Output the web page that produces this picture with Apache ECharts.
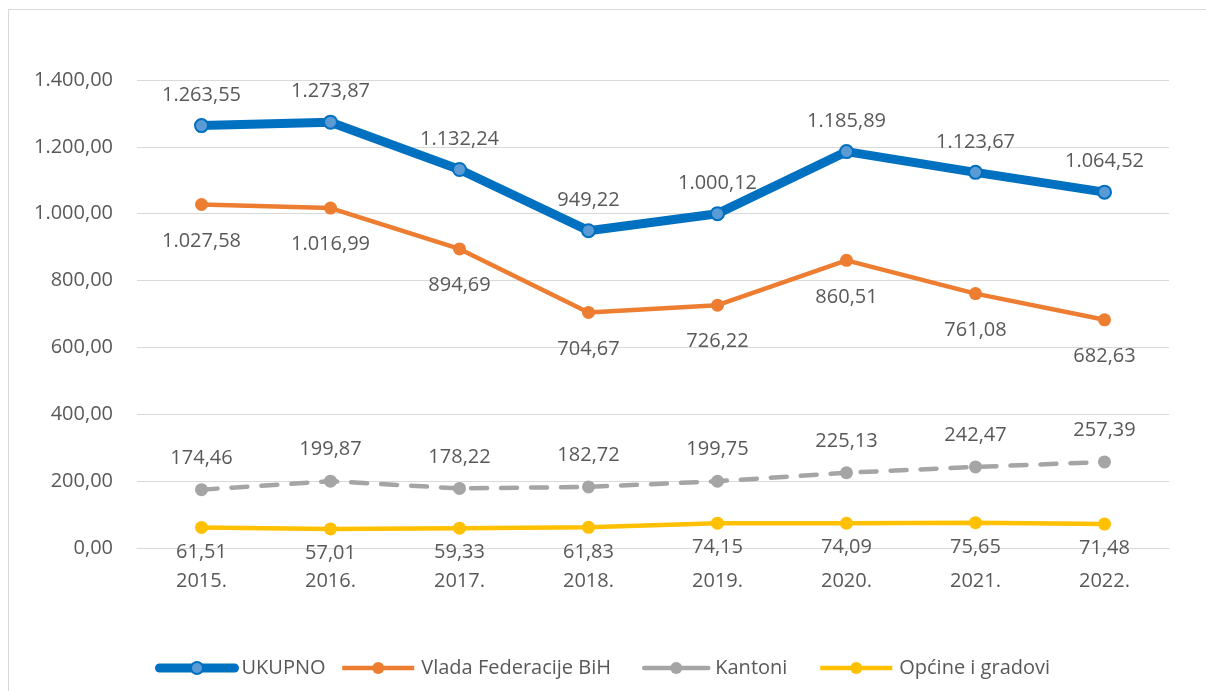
<!DOCTYPE html>
<html>
<head>
<meta charset="utf-8">
<script src="https://cdn.jsdelivr.net/npm/echarts@6/dist/echarts.min.js"></script>
<style>
    html, body { margin: 0; padding: 0; background: #fff; }
    #frame { position: absolute; left: 8px; top: 9px; width: 1210px; height: 700px; border: 1px solid #d9d9d9; box-sizing: border-box; }
    #chart { position: absolute; left: 0; top: 0; width: 1206px; height: 691px; }
</style>
</head>
<body>
<div id="frame"></div>
<div id="chart"></div>
<script>
    // godine
    const years = ['2015.', '2016.', '2017.', '2018.', '2019.', '2020.', '2021.', '2022.'];
    const ukupno = [1263.55, 1273.87, 1132.24, 949.22, 1000.12, 1185.89, 1123.67, 1064.52];
    const vlada = [1027.58, 1016.99, 894.69, 704.67, 726.22, 860.51, 761.08, 682.63];
    const kantoni = [174.46, 199.87, 178.22, 182.72, 199.75, 225.13, 242.47, 257.39];
    const opcine = [61.51, 57.01, 59.33, 61.83, 74.15, 74.09, 75.65, 71.48];
    const yTicks = [0, 200, 400, 600, 800, 1000, 1200, 1400];

    const FONT = '"Open Sans", "Noto Sans", sans-serif';
    const TXT = '#595959';
    const FS = 20;

    // 1.263,55 format
    function fmt(v) {
        let parts = v.toFixed(2).split('.');
        parts[0] = parts[0].replace(/\B(?=(\d{3})+(?!\d))/g, '.');
        return parts[0] + ',' + parts[1];
    }

    function lbl(pos, dist) {
        return {
            show: true,
            position: pos,
            distance: dist,
            color: TXT,
            fontSize: FS,
            fontFamily: FONT,
            formatter: p => fmt(p.value)
        };
    }

    // svaka legenda posebno, kao u Excelu
    function leg(name, left, width, lineWidth) {
        return {
            left: left,
            top: 658,
            padding: 0,
            itemWidth: width,
            itemHeight: 15,
            itemGap: 0,
            textStyle: { color: TXT, fontSize: FS, fontFamily: FONT, padding: [0, 0, 0, 2] },
            lineStyle: { width: lineWidth, type: 'solid' },
            data: [name]
        };
    }

    let chart = echarts.init(document.getElementById('chart'));
    let option = {
        animation: false,
        textStyle: { fontFamily: FONT },
        grid: { left: 137, right: 37, top: 80, bottom: 143, outerBoundsMode: 'none' },
        legend: [
            leg('UKUPNO', 155, 75, 9),
            leg('Vlada Federacije BiH', 340, 72, 4.5),
            leg('Kantoni', 642, 64, 4.5),
            leg('Općine i gradovi', 818, 72, 4.5)
        ],
        xAxis: {
            type: 'category',
            data: years,
            axisLine: { lineStyle: { color: '#d9d9d9', width: 1 } },
            axisTick: { show: false },
            axisLabel: { color: TXT, fontSize: FS, fontFamily: FONT, margin: 23 }
        },
        yAxis: {
            type: 'value',
            min: yTicks[0],
            max: yTicks[yTicks.length - 1],
            interval: 200,
            axisLine: { show: false },
            axisTick: { show: false },
            splitLine: { lineStyle: { color: '#d9d9d9', width: 1 } },
            axisLabel: { color: TXT, fontSize: FS, fontFamily: FONT, margin: 24, formatter: v => fmt(v) }
        },
        series: [
            {
                name: 'Općine i gradovi',
                type: 'line',
                data: opcine,
                z: 2,
                symbol: 'circle',
                symbolSize: 13,
                itemStyle: { color: '#ffc000' },
                lineStyle: { color: '#ffc000', width: 4.5 },
                label: lbl('bottom', 8)
            },
            {
                name: 'Kantoni',
                type: 'line',
                data: kantoni,
                z: 3,
                symbol: 'circle',
                symbolSize: 13,
                itemStyle: { color: '#a5a5a5' },
                lineStyle: { color: '#a5a5a5', width: 4.5, type: [16, 14], cap: 'round' },
                label: lbl('top', 15)
            },
            {
                name: 'Vlada Federacije BiH',
                type: 'line',
                data: vlada,
                z: 4,
                symbol: 'circle',
                symbolSize: 13,
                itemStyle: { color: '#ed7d31' },
                lineStyle: { color: '#ed7d31', width: 4.5 },
                label: lbl('bottom', 20)
            },
            {
                name: 'UKUPNO',
                type: 'line',
                data: ukupno,
                z: 5,
                symbol: 'circle',
                symbolSize: 13,
                itemStyle: { color: '#5b9bd5', borderColor: '#0070c0', borderWidth: 2 },
                lineStyle: { color: '#0070c0', width: 9, cap: 'round' },
                label: lbl('top', 13)
            }
        ]
    };
    chart.setOption(option);
</script>
</body>
</html>
